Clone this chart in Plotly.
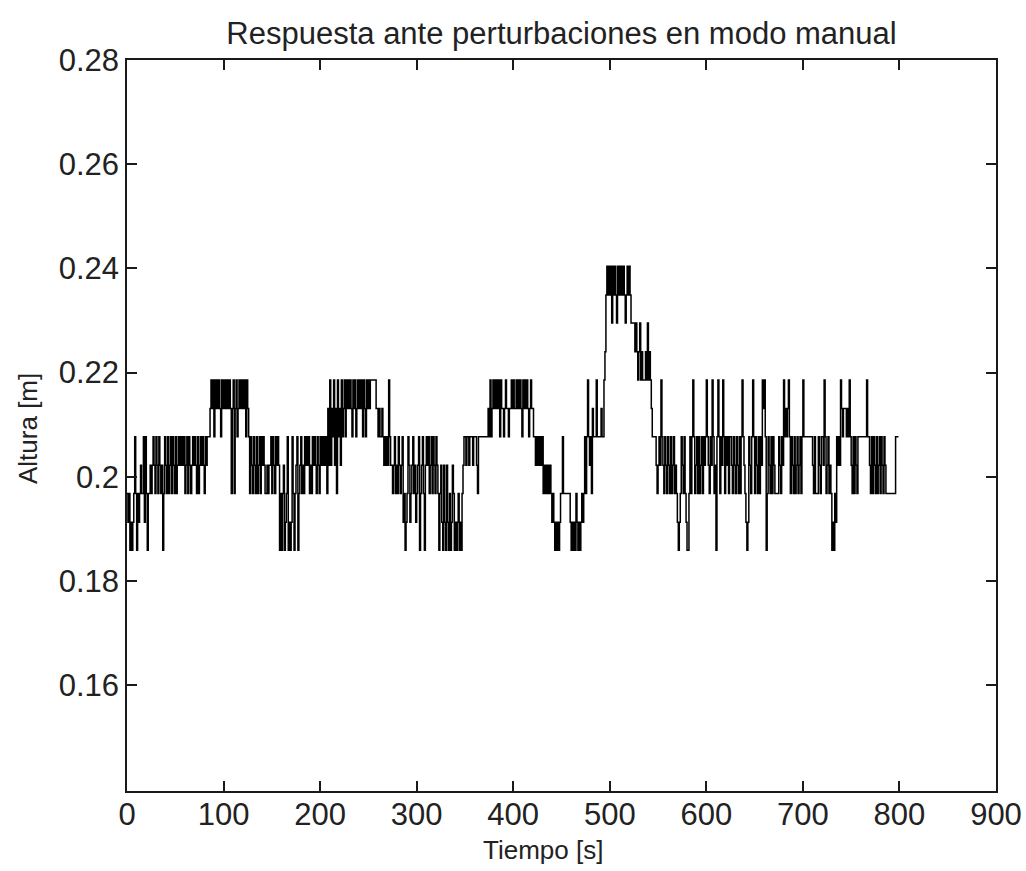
import plotly.graph_objects as go

# Quantised height levels (m)
LEVELS = [0.1859, 0.1913, 0.1968, 0.2022, 0.2077, 0.2131,
          0.2186, 0.2240, 0.2295, 0.2349, 0.2404]

# Level index per 1-second sample (10 samples per group)
LEVEL_CODES = [
    2,1,2,0,1,0,1,2,4,2,   0,2,1,2,3,2,2,4,1,4,   2,0,2,2,3,2,3,4,3,2,
    4,3,2,4,3,2,3,0,2,4,   3,2,4,2,3,4,2,4,3,2,   4,2,3,4,3,4,3,4,3,4,
    2,3,4,2,4,3,2,3,4,3,   4,3,2,4,2,3,4,3,4,3,   2,4,3,4,4,4,5,6,5,6,
    4,6,5,6,5,6,5,4,6,5,   6,5,6,5,6,5,6,5,2,5,   6,2,5,6,4,5,6,5,6,5,
    6,5,6,4,6,5,4,2,4,3,   2,4,3,2,4,2,3,4,2,4,   3,4,3,2,2,3,2,3,3,4,
    2,4,3,2,4,3,4,3,0,2,   0,2,3,0,1,2,4,0,1,0,   1,4,2,0,2,3,4,0,2,3,
    4,2,3,2,4,3,4,3,4,2,   3,2,4,3,4,3,2,4,3,2,   4,3,4,3,4,3,4,2,5,3,
    6,3,5,4,6,3,5,2,6,4,   5,3,6,4,5,6,4,6,5,6,   5,6,5,4,6,5,6,4,5,6,
    5,6,5,6,4,6,5,4,6,5,   6,5,6,6,6,6,6,6,5,5,   4,5,4,4,5,4,3,4,3,4,
    3,6,4,3,3,2,3,4,2,3,   2,4,3,2,3,4,1,2,0,1,   2,4,3,1,2,3,4,2,3,1,
    2,3,4,0,2,3,4,2,0,3,   4,3,4,2,3,4,2,4,3,2,   4,3,2,0,2,3,1,0,3,1,
    0,3,1,0,2,0,1,3,2,0,   1,0,1,2,0,1,0,2,3,4,   4,3,4,4,3,4,4,4,3,4,
    4,4,3,2,4,4,4,4,4,4,   4,4,4,4,5,4,6,4,5,6,   5,6,5,6,5,6,4,6,5,5,
    4,5,6,5,5,4,5,5,6,5,   6,5,5,6,5,6,5,6,5,4,   6,5,6,5,6,5,4,5,6,5,
    5,4,4,3,4,3,4,3,4,3,   4,2,3,2,3,2,3,2,3,2,   1,2,1,0,1,0,1,0,1,2,
    2,4,2,2,2,2,2,2,2,1,   0,1,0,1,0,2,1,0,1,0,   1,2,1,2,4,2,4,6,4,3,
    4,2,5,4,4,4,6,4,4,4,   4,5,4,4,6,7,9,10,9,10, 9,10,8,10,9,10,9,8,10,9,
    10,9,10,9,10,9,8,9,10,9, 10,9,8,8,8,8,7,8,7,6, 7,8,6,7,6,6,6,7,6,8,
    6,7,6,5,4,4,4,4,3,2,   3,4,3,6,4,3,2,4,3,2,   4,3,2,4,2,3,4,2,3,2,
    1,0,1,2,4,3,2,4,2,1,   0,0,2,4,2,4,6,4,2,3,   4,2,4,2,3,4,2,4,3,4,
    6,4,3,2,4,3,6,4,2,3,   0,4,6,4,2,4,3,6,4,2,   4,3,4,2,4,4,3,2,4,3,
    2,4,3,2,4,2,4,6,4,3,   2,1,0,1,4,3,2,4,6,4,   2,4,3,2,4,2,4,3,6,5,
    6,4,0,2,4,3,2,4,2,4,   3,2,2,2,2,4,3,2,4,3,   6,4,5,4,5,6,4,2,4,3,
    2,4,2,3,4,2,3,4,2,4,   6,4,4,4,4,4,4,4,4,4,   3,2,4,2,2,2,4,3,2,4,
    4,3,6,4,2,3,4,2,3,2,   0,1,0,2,1,4,3,4,3,6,   5,4,5,5,5,4,5,4,6,4,
    3,2,4,2,4,3,2,4,4,4,   4,4,4,4,4,4,6,4,4,3,   2,4,2,4,3,2,4,2,3,4,
    2,4,3,2,4,3,2,2,2,2,   2,2,2,2,2,2,4,4,4,4,
]
SAMPLE_PERIOD_S = 1

X_TICKS = [0, 100, 200, 300, 400, 500, 600, 700, 800, 900]
Y_TICKS = [0.16, 0.18, 0.2, 0.22, 0.24, 0.26, 0.28]
Y_TICK_TEXT = ["0.16", "0.18", "0.2", "0.22", "0.24", "0.26", "0.28"]

time_s = [i * SAMPLE_PERIOD_S for i in range(len(LEVEL_CODES))]
height_m = [LEVELS[c] for c in LEVEL_CODES]

FONT = "Liberation Sans, Arial, sans-serif"
TXT = "#222222"

L, R, T, B = 127, 30, 60, 80
W, H = 1026, 871
PW = W - L - R

fig = go.Figure()
fig.add_trace(go.Scatter(
    x=time_s, y=height_m, mode="lines",
    line=dict(color="black", width=1.5, shape="hv"),
    showlegend=False, hoverinfo="skip",
))

axis_common = dict(
    showline=True, linecolor="#1a1a1a", linewidth=1.5, mirror="ticks",
    ticks="inside", ticklen=10, tickwidth=1.5, tickcolor="#1a1a1a",
    showgrid=False, zeroline=False, automargin=False,
    tickfont=dict(family=FONT, size=31, color=TXT),
)

fig.update_layout(
    width=W, height=H,
    margin=dict(l=L, r=R, t=T, b=B, autoexpand=False),
    paper_bgcolor="white", plot_bgcolor="white",
    title=dict(text="Respuesta ante perturbaciones en modo manual",
               x=0.5, xanchor="center", xref="paper", y=1 - 33 / H, yanchor="middle",
               automargin=False,
               font=dict(family=FONT, size=31, color=TXT)),
    xaxis=dict(range=[0, 900], tickvals=X_TICKS, ticklabelstandoff=-5,
               **axis_common),
    yaxis=dict(range=[0.1397, 0.28], tickvals=Y_TICKS, ticktext=Y_TICK_TEXT,
               **axis_common),
    annotations=[
        dict(text="Tiempo [s]", xref="paper", yref="paper",
             x=(543 - L) / PW, y=-(850 - (H - B)) / (H - T - B),
             xanchor="center", yanchor="middle", showarrow=False,
             font=dict(family=FONT, size=26, color=TXT)),
        dict(text="Altura [m]", xref="paper", yref="paper",
             x=(28 - L) / PW, y=0.5 - (429 - (T + (H - T - B) / 2)) / (H - T - B),
             xanchor="center", yanchor="middle", showarrow=False, textangle=-90,
             font=dict(family=FONT, size=26, color=TXT)),
    ],
)

fig.write_html("out.html")
